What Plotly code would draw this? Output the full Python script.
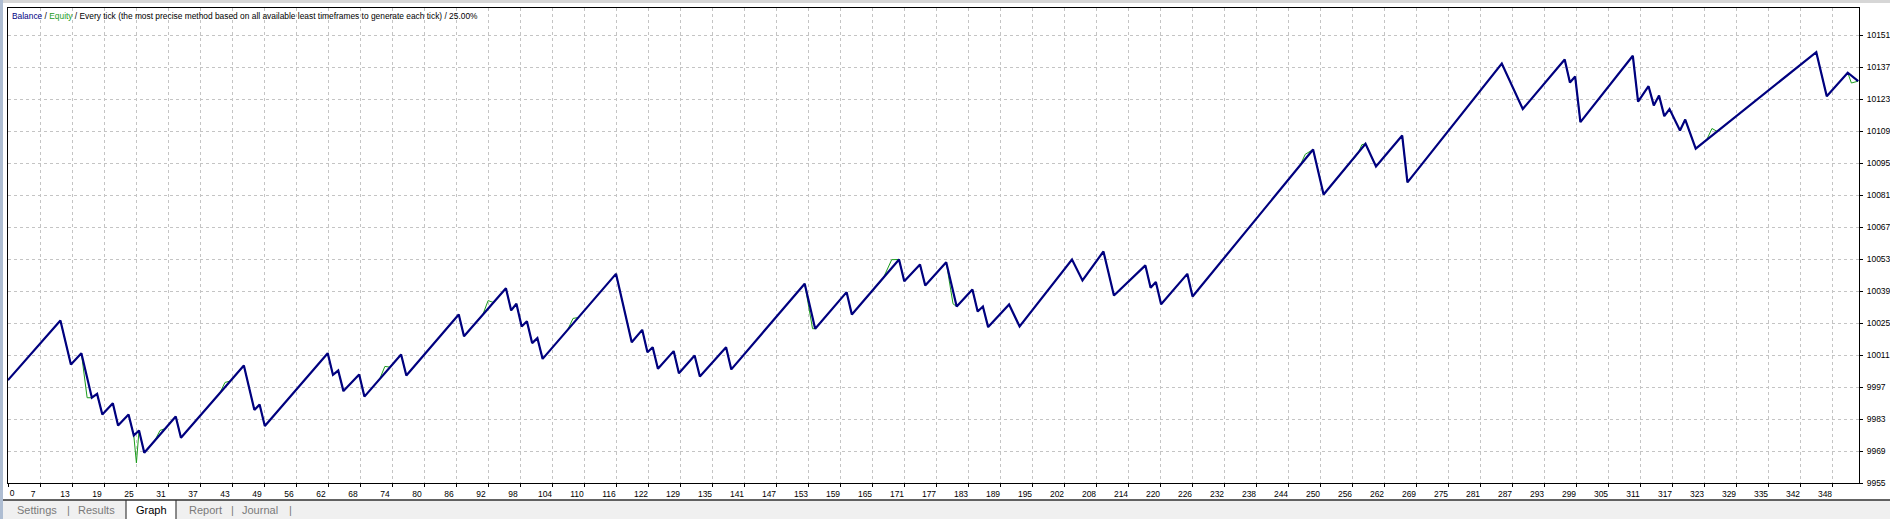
import plotly.graph_objects as go

# ---------------- data ----------------
# balance turning points: trade number -> balance
bal_trade = [0, 10, 12, 14, 16, 17, 18, 20, 21, 23, 24, 25, 26, 32, 33, 45, 47, 48, 49,
             61, 62, 63, 64, 67, 68, 75, 76, 86, 87, 95, 96, 97, 98, 99, 100, 101, 102,
             116, 119, 121, 122, 123, 124, 127, 128, 131, 132, 137, 138, 152, 154, 160, 161,
             170, 171, 174, 175, 179, 181, 184, 185, 186, 187, 191, 193, 203, 205, 209, 211,
             217, 218, 219, 220, 225, 226, 249, 251, 259, 261, 266, 267, 285, 289, 297, 298,
             299, 300, 310, 311, 313, 314, 315, 316, 317, 319, 320, 322, 345, 347, 351, 353]
bal_value = [10000.0, 10026.1, 10006.8, 10011.8, 9992.3, 9994.0, 9985.0, 9989.9, 9980.2, 9985.0,
             9975.8, 9978.0, 9968.2, 9984.1, 9974.8, 10006.4, 9987.0, 9989.3, 9979.9,
             10011.8, 10002.3, 10004.2, 9995.2, 10002.5, 9992.8, 10011.2, 10002.0, 10028.7, 10019.2,
             10040.2, 10030.5, 10033.4, 10023.5, 10025.8, 10016.2, 10018.4, 10009.3,
             10046.5, 10016.6, 10022.0, 10012.2, 10014.4, 10005.0, 10012.7, 10003.0, 10010.8, 10001.6,
             10014.4, 10004.7, 10042.2, 10022.5, 10038.5, 10028.7,
             10052.8, 10043.3, 10050.6, 10041.4, 10051.6, 10032.2, 10039.7, 10030.0, 10032.2, 10023.2,
             10033.1, 10023.5, 10052.8, 10043.6, 10056.3, 10037.0,
             10050.2, 10040.4, 10042.9, 10033.2, 10046.5, 10036.6, 10100.9, 10081.2, 10103.4, 10093.5,
             10107.0, 10086.5, 10138.5, 10118.6, 10140.3, 10130.2,
             10132.8, 10112.9, 10141.9, 10121.9, 10128.6, 10120.2, 10124.5, 10115.5, 10118.6, 10109.2,
             10114.0, 10101.3, 10143.5, 10124.2, 10134.5, 10130.8]

# equity points where equity leaves (and rejoins) the balance line
eq_extra_trade = [15.1, 24.5,
                  28.0, 29.0, 30.0,
                  40.4, 41.4, 42.4,
                  70.9, 71.9, 72.9,
                  90.6, 91.6, 92.6,
                  106.8, 107.8, 108.8,
                  153.5,
                  166.9, 168.6,
                  180.3,
                  246.5, 247.5,
                  257.5, 258.3,
                  324.1, 325.1, 326.1,
                  351.7]
eq_extra_value = [9992.3, 9963.8,
                  9973.5, 9978.0, 9978.8,
                  9994.3, 9999.0, 9999.6,
                  10000.4, 10006.0, 10005.7,
                  10028.7, 10034.8, 10034.0,
                  10022.1, 10027.0, 10027.4,
                  10022.5,
                  10044.2, 10052.7,
                  10033.4,
                  10093.9, 10098.8,
                  10098.9, 10103.0,
                  10105.2, 10110.1, 10108.8,
                  10130.0]

x_tick_labels = ["0", "7", "13", "19", "25", "31", "37", "43", "49", "56", "62", "68", "74", "80",
                 "86", "92", "98", "104", "110", "116", "122", "129", "135", "141", "147", "153",
                 "159", "165", "171", "177", "183", "189", "195", "202", "208", "214", "220", "226",
                 "232", "238", "244", "250", "256", "262", "269", "275", "281", "287", "293", "299",
                 "305", "311", "317", "323", "329", "335", "342", "348"]
y_tick_values = [9955, 9969, 9983, 9997, 10011, 10025, 10039, 10053, 10067, 10081,
                 10095, 10109, 10123, 10137, 10151]

tabs = ["Settings", "Results", "Graph", "Report", "Journal"]
header_text = ("Every tick (the most precise method based on all available least "
               "timeframes to generate each tick) / 25.00%")

# ---------------- layout geometry ----------------
W, H = 1890, 519
L, R, T, B = 8, 1859, 8, 483            # plot area in pixels
n_grid = len(x_tick_labels) - 1
x_step = float(x_tick_labels[-1]) / n_grid          # trades per grid cell
grid_px = 32.0
x_max = (R - L) / grid_px * x_step
y_min = y_tick_values[0]
y_step_px = 32.0
y_max = y_min + (B - T) / y_step_px * (y_tick_values[1] - y_tick_values[0])
tick_positions = [k * x_step for k in range(len(x_tick_labels))]
# the first label sits right of its grid line (own axis), the others left of it
main_tick_text = [""] + x_tick_labels[1:]


def px(x):
    return (x - L) / (R - L)


def py(y):
    return (B - y) / (B - T)


# equity = balance path plus its own excursions
eq_pts = sorted(list(zip(bal_trade, bal_value)) + list(zip(eq_extra_trade, eq_extra_value)))
eq_trade = [p[0] for p in eq_pts]
eq_value = [p[1] for p in eq_pts]

NAVY = "#00007f"
GREEN = "#1c9c1c"
FONT = "Liberation Sans"

fig = go.Figure()
fig.add_trace(go.Scatter(x=eq_trade, y=eq_value, mode="lines",
                         line=dict(color=GREEN, width=1), hoverinfo="skip", showlegend=False))
fig.add_trace(go.Scatter(x=bal_trade, y=bal_value, mode="lines", xaxis="x2",
                         line=dict(color=NAVY, width=2.2), hoverinfo="skip", showlegend=False))

tick_font = dict(family=FONT, size=8.5, color="black")
fig.update_layout(
    width=W, height=H,
    margin=dict(l=L, r=W - R, t=T, b=H - B, pad=0, autoexpand=False),
    paper_bgcolor="white", plot_bgcolor="white",
    font=dict(family=FONT, size=8, color="black"),
    xaxis=dict(range=[0, x_max], tickmode="array", tickvals=tick_positions, ticktext=main_tick_text,
               showgrid=True, gridcolor="#c4c4c4", griddash="3px,3px", gridwidth=1,
               showline=True, mirror=True, linecolor="black", linewidth=1,
               ticks="outside", ticklen=3, tickcolor="black", tickwidth=1,
               tickfont=tick_font, ticklabelshift=-7, ticklabelstandoff=0,
               automargin=False, zeroline=False, fixedrange=True),
    xaxis2=dict(range=[0, x_max], overlaying="x", side="bottom", anchor="y",
                tickmode="array", tickvals=tick_positions[:1], ticktext=x_tick_labels[:1],
                showgrid=False, showline=False, ticks="", tickfont=tick_font,
                ticklabelshift=4, ticklabelstandoff=3, automargin=False,
                zeroline=False, fixedrange=True),
    yaxis=dict(range=[y_min, y_max], side="right", tickmode="array", tickvals=y_tick_values,
               ticktext=[str(v) for v in y_tick_values],
               showgrid=True, gridcolor="#c4c4c4", griddash="3px,3px", gridwidth=1,
               showline=True, mirror=True, linecolor="black", linewidth=1,
               ticks="outside", ticklen=3, tickcolor="black", tickwidth=1,
               tickfont=tick_font, ticklabelstandoff=2, automargin=False,
               zeroline=False, fixedrange=True),
)

shapes = [
    # top strip
    dict(type="rect", xref="paper", yref="paper", x0=px(0), x1=px(W), y0=py(0), y1=py(3),
         fillcolor="#d6d6d6", line=dict(width=0), layer="below"),
    # left strip
    dict(type="rect", xref="paper", yref="paper", x0=px(0), x1=px(3), y0=py(0), y1=py(H),
         fillcolor="#aebdd2", line=dict(width=0), layer="below"),
    # tab bar
    dict(type="rect", xref="paper", yref="paper", x0=px(3), x1=px(W), y0=py(500), y1=py(H),
         fillcolor="#f0f0f0", line=dict(width=0), layer="below"),
    # active tab
    dict(type="rect", xref="paper", yref="paper", x0=px(126), x1=px(176), y0=py(500), y1=py(H),
         fillcolor="white", line=dict(width=0), layer="below"),
    dict(type="line", xref="paper", yref="paper", x0=px(126), x1=px(126), y0=py(500), y1=py(H),
         line=dict(color="#404040", width=1.2)),
    dict(type="line", xref="paper", yref="paper", x0=px(176), x1=px(176), y0=py(500), y1=py(H),
         line=dict(color="#404040", width=1.2)),
    dict(type="line", xref="paper", yref="paper", x0=px(3), x1=px(W), y0=py(500), y1=py(500),
         line=dict(color="#303030", width=1.5)),
]
fig.update_layout(shapes=shapes)

annotations = [
    dict(xref="paper", yref="paper", x=px(10), y=py(16), xanchor="left", yanchor="middle",
         showarrow=False, align="left", font=dict(family=FONT, size=8.4, color="black"),
         text=(f'<span style="color:{NAVY}">Balance</span> / '
               f'<span style="color:{GREEN}">Equity</span> / ' + header_text)),
]
tab_centers = [37, 96, 151, 205, 260]
for name, cx in zip(tabs, tab_centers):
    annotations.append(dict(xref="paper", yref="paper", x=px(cx), y=py(510), xanchor="center",
                            yanchor="middle", showarrow=False, text=name,
                            font=dict(family=FONT, size=11,
                                      color="black" if name == "Graph" else "#7a7a7a")))
for sx in [68, 232, 290]:
    annotations.append(dict(xref="paper", yref="paper", x=px(sx), y=py(510), xanchor="center",
                            yanchor="middle", showarrow=False, text="|",
                            font=dict(family=FONT, size=11, color="#7a7a7a")))
fig.update_layout(annotations=annotations)

fig.write_html("out.html", config={"displayModeBar": False},
               post_script="document.body.style.margin='0';document.body.style.overflow='hidden';")
